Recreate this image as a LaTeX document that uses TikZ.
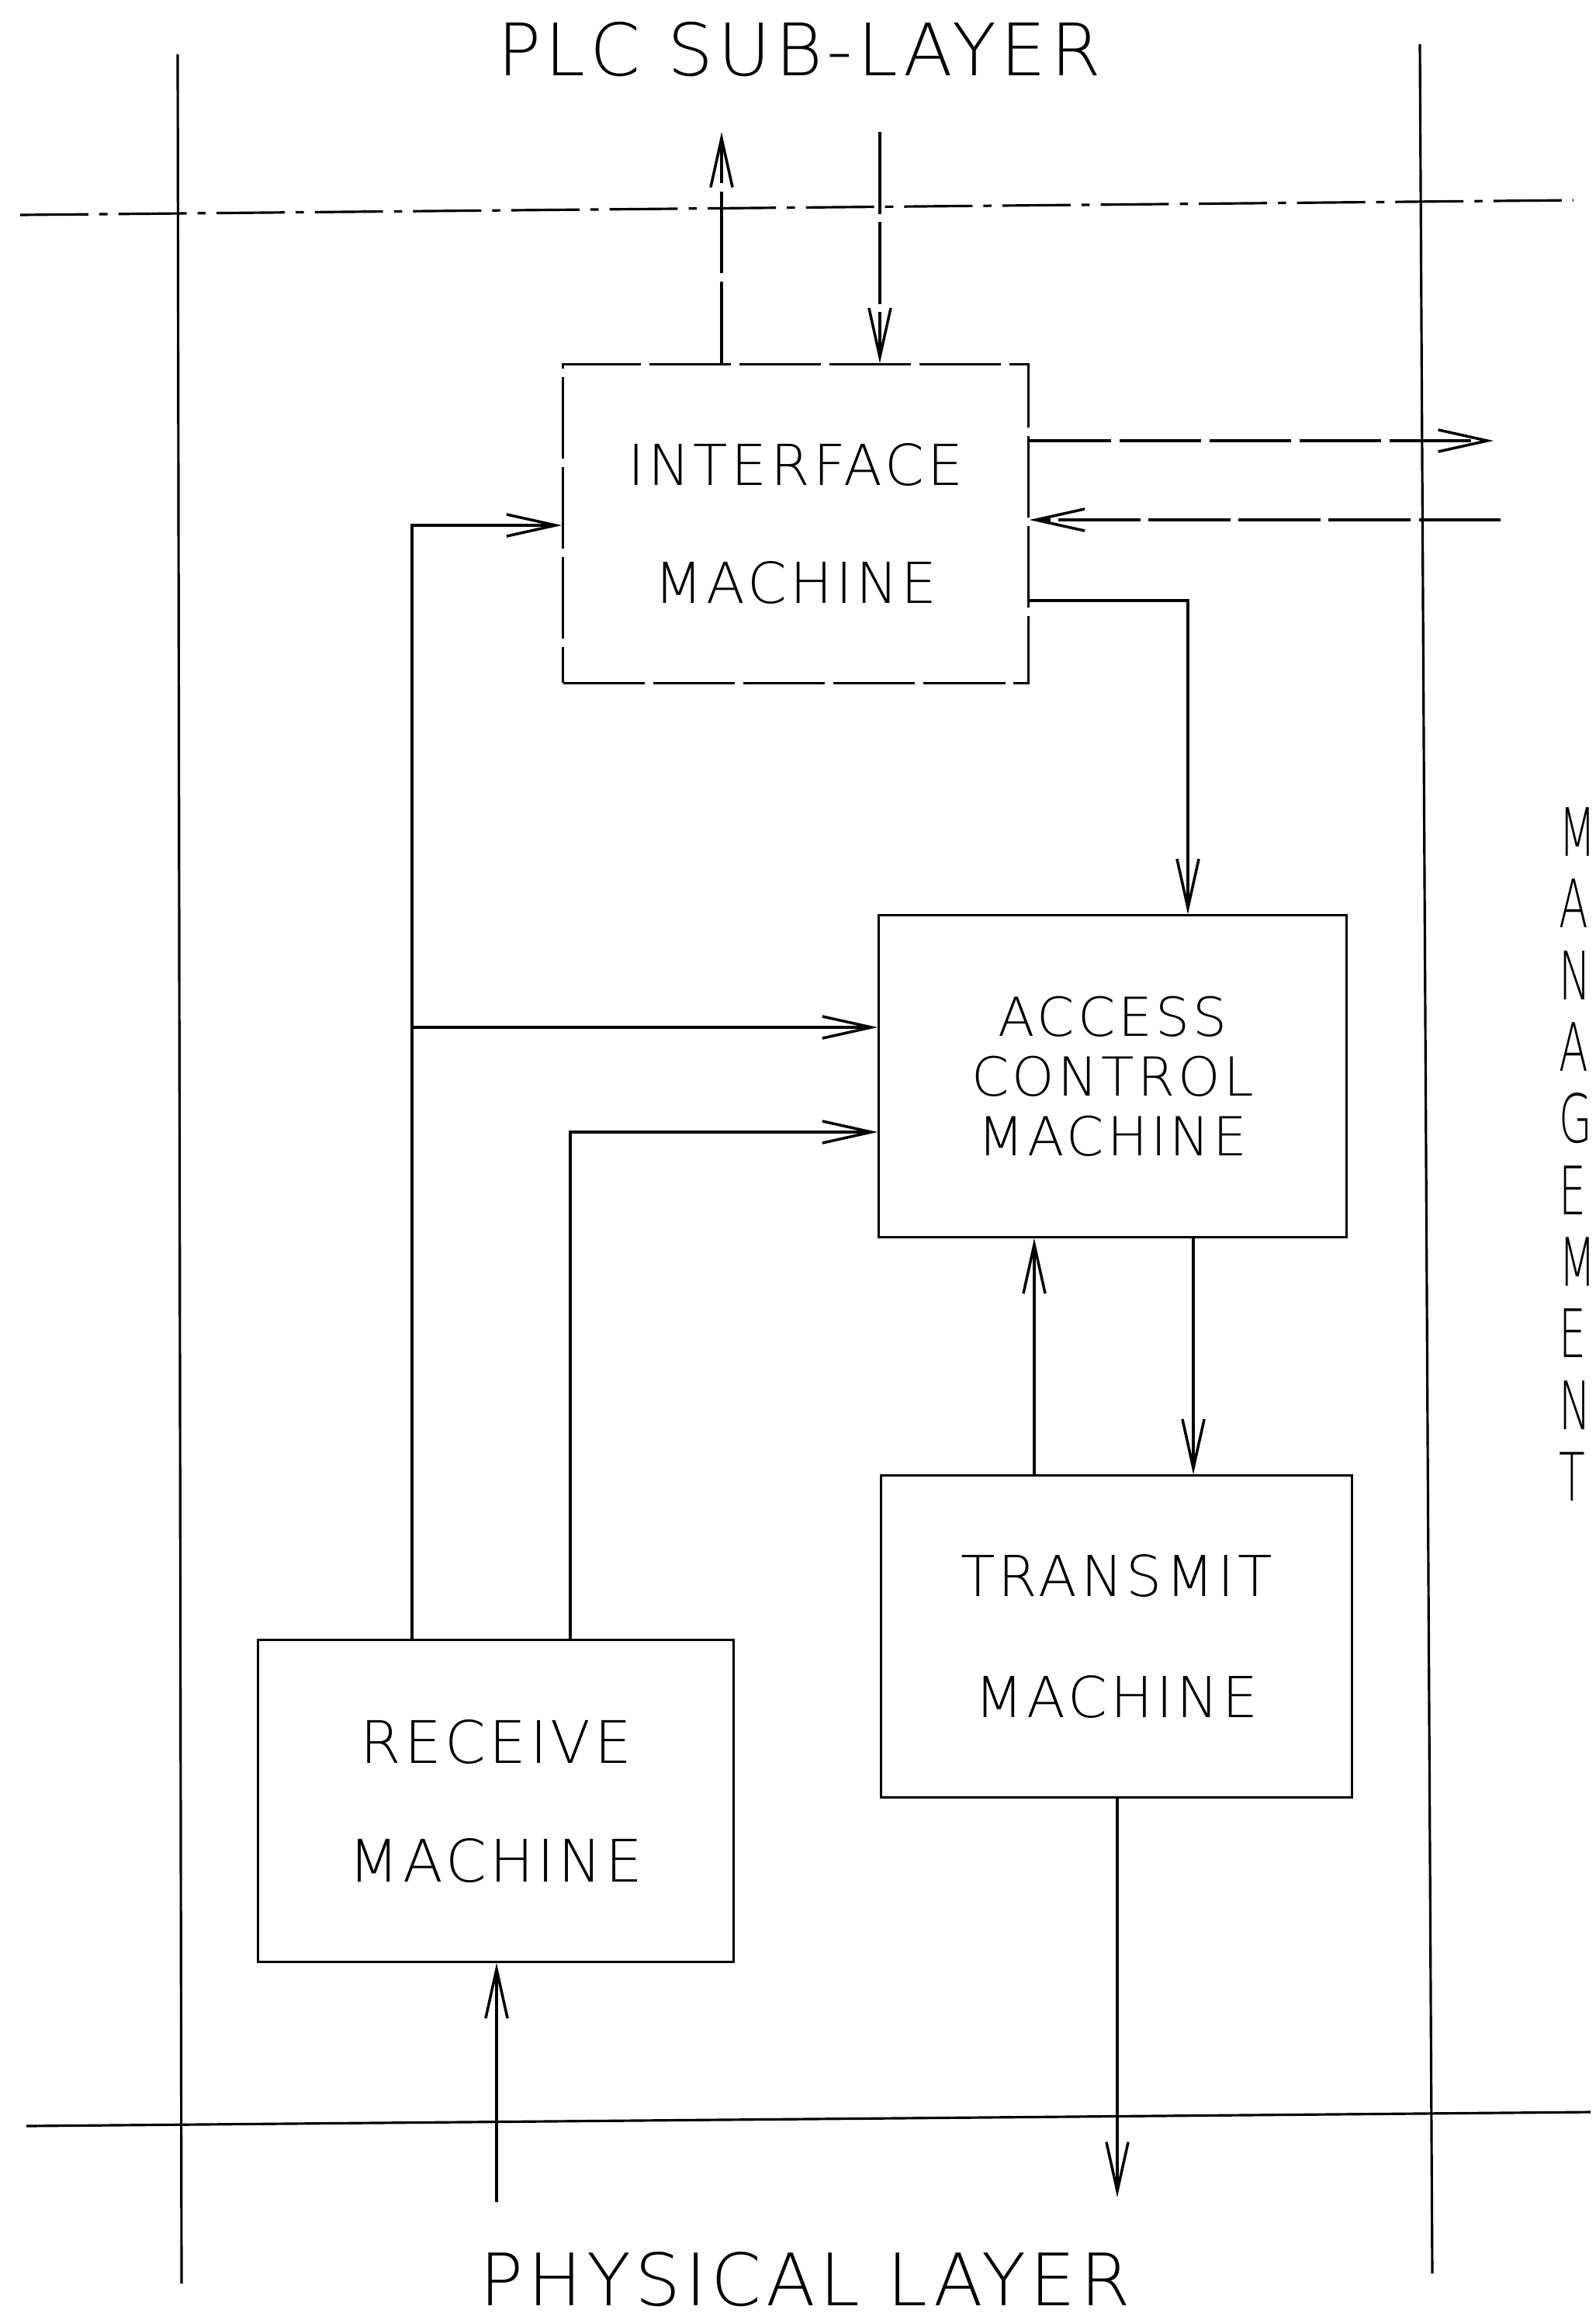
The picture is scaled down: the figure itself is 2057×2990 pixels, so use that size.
\documentclass[tikz,border=0pt]{standalone}
\usepackage{fontspec}
\setmainfont{DejaVu Sans ExtraLight}[LetterSpace=6]
\usetikzlibrary{arrows.meta}
\begin{document}
\begin{tikzpicture}[x=0.01cm,y=-0.01cm,
  line width=0.9pt,
  arr/.style={-{Straight Barb[length=18pt,width=8pt,line width=1pt]}},
  box/.style={draw, rectangle, inner sep=0pt, align=center},
  brk/.style={dash pattern=on 30pt off 3pt},
  bnd/.style={dash pattern=on 25pt off 4pt on 3pt off 4pt},
  title/.style={font=\fontsize{26.5pt}{30pt}\selectfont, inner sep=0pt},
]
\useasboundingbox (0,0) rectangle (2057,2990);

% layer boundaries
\draw (229,70) -- (234,2943);
\draw (1830,57) -- (1846,2930);
\draw[bnd] (26,277) -- (2028,258);
\draw (34,2740) -- (2050,2722);

% titles
\node[title] (plc) at (1030,64) {PLC SUB-LAYER};
\node[title] (phy) at (1038,2938) {PHYSICAL LAYER};
\node[anchor=north west, inner sep=0pt, align=left, xscale=0.64,
      font=\fontsize{24.5pt}{26.26pt}\selectfont] (mgmt) at (2008,1039)
      {M\\A\\N\\A\\G\\E\\M\\E\\N\\T};

% machines
\node[box, brk, minimum width=5.99cm, minimum height=4.10cm,
      font=\fontsize{20.7pt}{43.2pt}\selectfont] (ifm) at (1025.5,675)
      {INTERFACE\\MACHINE};
\node[box, minimum width=6.02cm, minimum height=4.14cm,
      font=\fontsize{19.7pt}{21.9pt}\selectfont] (acm) at (1434,1387)
      {ACCESS\\CONTROL\\MACHINE};
\node[box, minimum width=6.06cm, minimum height=4.14cm,
      font=\fontsize{20.7pt}{44.1pt}\selectfont] (tm) at (1439,2109)
      {TRANSMIT\\MACHINE};
\node[box, minimum width=6.12cm, minimum height=4.14cm,
      font=\fontsize{21.5pt}{43.5pt}\selectfont] (rm) at (639,2321)
      {RECEIVE\\MACHINE};

% free ends and bends
\coordinate (plcout) at (930,170);
\coordinate (plcin) at (1134,170);
\coordinate (mgout) at (1925,568);
\coordinate (mgin) at (1934,670);
\coordinate (c1) at (1531,774);
\coordinate (c2) at (531,677);
\coordinate (c3) at (531,1324);
\coordinate (c4) at (735,1459);
\coordinate (c5) at (1333,1750);
\coordinate (c6) at (1538,1750);
\coordinate (phyout) at (1440,2832);
\coordinate (phyin) at (640,2838);

% connectors
\draw[arr, brk] (plcout |- ifm.north) -- (plcout);
\draw[arr, brk] (plcin) -- (plcin |- ifm.north);
\draw[arr, brk] (mgout -| ifm.east) -- (mgout);
\draw[arr, brk] (mgin) -- (mgin -| ifm.east);
\draw[arr] (c1 -| ifm.east) -- (c1) -- (c1 |- acm.north);
\draw[arr] (c2 |- rm.north) -- (c2) -- (c2 -| ifm.west);
\draw[arr] (c3) -- (c3 -| acm.west);
\draw[arr] (c4 |- rm.north) -- (c4) -- (c4 -| acm.west);
\draw[arr] (c5 |- tm.north) -- (c5 |- acm.south);
\draw[arr] (c6 |- acm.south) -- (c6 |- tm.north);
\draw[arr] (phyout |- tm.south) -- (phyout);
\draw[arr] (phyin) -- (phyin |- rm.south);
\end{tikzpicture}
\end{document}
